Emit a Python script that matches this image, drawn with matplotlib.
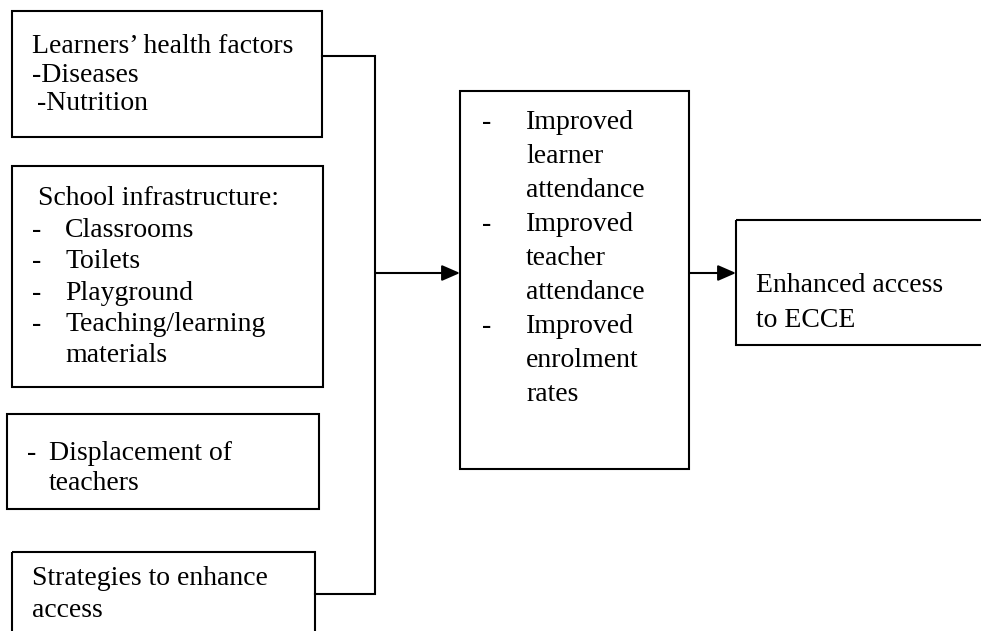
import matplotlib.pyplot as plt
from matplotlib.patches import Rectangle

plt.rcParams['font.family'] = ['Liberation Serif', 'DejaVu Serif']

# boxes: (left, top, right, bottom) in pixel units of the page
box_health = (12, 11, 322, 137)
box_infra = (12, 166, 323, 387)
box_displ = (7, 414, 319, 509)
box_strat = (12, 552, 315, 660)
box_outcome = (460, 91, 689, 469)
box_access = (736, 220, 1000, 345)

# text lines: (x, baseline y, text)
health_lines = [(32, 53, "Learners\u2019 health factors"),
                (32, 82, "-Diseases"),
                (37, 110, "-Nutrition")]
infra_lines = [(38, 205, "School infrastructure:"),
               (32, 237, "-"), (65, 237, "Classrooms"),
               (32, 268, "-"), (65, 268, "Toilets"),
               (32, 300, "-"), (65, 300, "Playground"),
               (32, 331, "-"), (65, 331, "Teaching/learning"),
               (65, 362, "materials")]
displ_lines = [(27, 460, "-"), (49, 460, "Displacement of"),
               (49, 490, "teachers")]
strat_lines = [(32, 585, "Strategies to enhance"),
               (32, 617, "access")]
outcome_lines = [(482, 129, "-"), (526, 129, "Improved"),
                 (526, 163, "learner"),
                 (526, 197, "attendance"),
                 (482, 231, "-"), (526, 231, "Improved"),
                 (526, 265, "teacher"),
                 (526, 299, "attendance"),
                 (482, 333, "-"), (526, 333, "Improved"),
                 (526, 367, "enrolment"),
                 (526, 401, "rates")]
access_lines = [(756, 292, "Enhanced access"),
                (756, 327, "to ECCE")]

boxes = [box_health, box_infra, box_displ, box_strat, box_outcome, box_access]
texts = [health_lines, infra_lines, displ_lines, strat_lines, outcome_lines, access_lines]

fig = plt.figure(figsize=(9.81, 6.31), dpi=100)
ax = fig.add_axes([0, 0, 1, 1])
ax.set_xlim(0, 981)
ax.set_ylim(631, 0)
ax.axis('off')

lw = 1.5
for (x0, y0, x1, y1) in boxes:
    ax.add_patch(Rectangle((x0, y0), x1 - x0, y1 - y0, fill=False,
                           edgecolor='black', linewidth=lw))
for lines in texts:
    for x, y, s in lines:
        ax.text(x, y, s, fontsize=20, va='baseline', ha='left', color='black')

# connector lines
vx = 375
ax.plot([box_health[2], vx, vx, box_strat[2]], [56, 56, 594, 594],
        color='black', linewidth=lw, solid_joinstyle='miter')

arrow = dict(arrowstyle='-|>,head_length=0.55,head_width=0.24', color='black',
             linewidth=lw, shrinkA=0, shrinkB=0, mutation_scale=20)
ax.annotate('', xy=(box_outcome[0], 273), xytext=(vx, 273), arrowprops=arrow)
ax.annotate('', xy=(box_access[0], 273), xytext=(box_outcome[2], 273), arrowprops=arrow)

fig.savefig('out.png', dpi=100)
